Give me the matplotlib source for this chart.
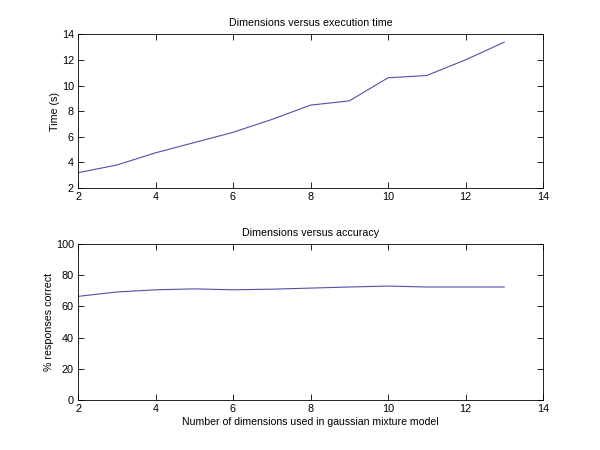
import matplotlib
matplotlib.use("Agg")
import matplotlib.pyplot as plt

dims = [2, 3, 4, 5, 6, 7, 8, 9, 10, 11, 12, 13]
exec_time = [3.2, 3.8, 4.75, 5.55, 6.35, 7.35, 8.47, 8.8, 10.6, 10.78, 12.0, 13.38]
accuracy = [66.4, 69.2, 70.6, 71.2, 70.6, 71.0, 71.7, 72.4, 73.0, 72.4, 72.4, 72.4]

plt.rcParams['font.family'] = ['Liberation Sans', 'DejaVu Sans']
plt.rcParams['font.size'] = 7.6

fig = plt.figure(figsize=(6, 4.5), dpi=100)
ax1 = fig.add_axes([0.13, 0.582, 0.775, 0.342])
ax2 = fig.add_axes([0.13, 0.111, 0.775, 0.347])

line_color = '#5050a8'
for ax in (ax1, ax2):
    ax.tick_params(direction='in', top=True, right=True, length=4, width=0.6, labelsize=7.8, pad=3)
    for s in ax.spines.values():
        s.set_linewidth(0.6)
    ax.set_xlim(2, 14)
    ax.set_xticks([2, 4, 6, 8, 10, 12, 14])

ax1.plot(dims, exec_time, color=line_color, linewidth=0.8)
ax1.set_ylim(2, 14)
ax1.set_yticks([2, 4, 6, 8, 10, 12, 14])
ax1.set_title('Dimensions versus execution time', fontsize=7.7, pad=6)
ax1.set_ylabel('Time (s)', fontsize=7.7, labelpad=1.5)

ax2.plot(dims, accuracy, color=line_color, linewidth=0.8)
ax2.set_ylim(0, 100)
ax2.set_yticks([0, 20, 40, 60, 80, 100])
ax2.set_title('Dimensions versus accuracy', fontsize=7.7, pad=6)
ax2.set_ylabel('% responses correct', fontsize=7.7, labelpad=1.5)
ax2.set_xlabel('Number of dimensions used in gaussian mixture model', fontsize=7.6, labelpad=2)

fig.savefig('out.png', dpi=100)
